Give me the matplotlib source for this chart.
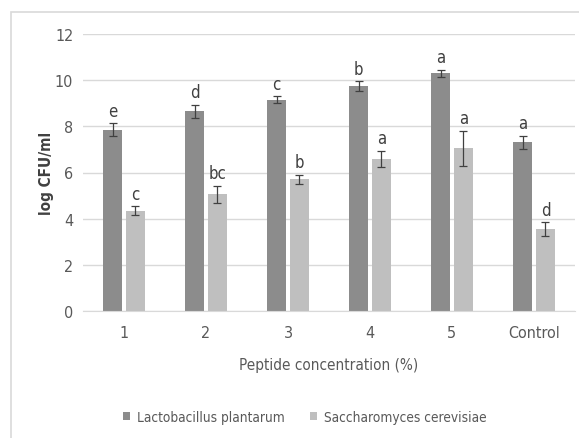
import matplotlib
matplotlib.use('Agg')
import matplotlib.pyplot as plt
import numpy as np
from matplotlib.patches import Rectangle

plt.rcParams['font.family'] = ['DejaVu Sans']
plt.rcParams['font.stretch'] = 'condensed'

# data
categories = ['1', '2', '3', '4', '5', 'Control']
lacto = [7.85, 8.65, 9.15, 9.75, 10.3, 7.3]
lacto_err = [0.28, 0.28, 0.15, 0.2, 0.15, 0.3]
lacto_letters = ['e', 'd', 'c', 'b', 'a', 'a']
sacch = [4.35, 5.05, 5.7, 6.6, 7.05, 3.55]
sacch_err = [0.2, 0.38, 0.2, 0.35, 0.75, 0.3]
sacch_letters = ['c', 'bc', 'b', 'a', 'a', 'd']
yticks = [0, 2, 4, 6, 8, 10, 12]

fig = plt.figure(figsize=(5.79, 4.39), dpi=100)
# outer chart border
fig.patches.append(Rectangle((11 / 579, -0.05), 1.0, 1 - 13 / 439 + 0.05,
                             transform=fig.transFigure, fill=False,
                             edgecolor='#d9d9d9', linewidth=1.2))

ax = fig.add_axes([83 / 579, 1 - 312 / 439, 492 / 579, 277 / 439])
x = np.arange(len(categories))
w = 0.23
off = 0.14
dark, light = '#8c8c8c', '#bfbfbf'
ax.bar(x - off, lacto, w, color=dark, label='Lactobacillus plantarum', zorder=2)
ax.bar(x + off, sacch, w, color=light, label='Saccharomyces cerevisiae', zorder=2)
ekw = dict(fmt='none', ecolor='#404040', elinewidth=0.9, capsize=3, capthick=0.9, zorder=3)
ax.errorbar(x - off, lacto, yerr=lacto_err, **ekw)
ax.errorbar(x + off, sacch, yerr=sacch_err, **ekw)

for xi, v, e, t in zip(x - off, lacto, lacto_err, lacto_letters):
    ax.text(xi, v + e + 0.15, t, ha='center', va='bottom', fontsize=12, color='#404040')
for xi, v, e, t in zip(x + off, sacch, sacch_err, sacch_letters):
    ax.text(xi, v + e + 0.15, t, ha='center', va='bottom', fontsize=12, color='#404040')

ax.set_xlim(-0.5, len(categories) - 0.5)
ax.set_ylim(0, 12)
ax.set_yticks(yticks)
ax.set_xticks(x)
ax.set_xticklabels(categories)
ax.yaxis.grid(True, color='#d9d9d9', linewidth=1, zorder=0)
ax.set_axisbelow(True)
for s in ['top', 'right', 'left']:
    ax.spines[s].set_visible(False)
ax.spines['bottom'].set_color('#d9d9d9')
ax.tick_params(length=0, labelsize=11.5, labelcolor='#595959')
ax.tick_params(axis='x', pad=10)
ax.tick_params(axis='y', pad=7)
ax.set_xlabel('Peptide concentration (%)', fontsize=11, color='#595959', labelpad=12)
ax.set_ylabel('log CFU/ml', fontsize=11, color='#404040', fontweight='semibold', labelpad=1)

fig.legend(loc='center', bbox_to_anchor=(305 / 579, 1 - 418 / 439), ncol=2, frameon=False,
           fontsize=9.8, handlelength=0.5, handleheight=0.5, columnspacing=1.9,
           handletextpad=0.5, labelcolor='#595959')

fig.savefig('out.png', dpi=100)
